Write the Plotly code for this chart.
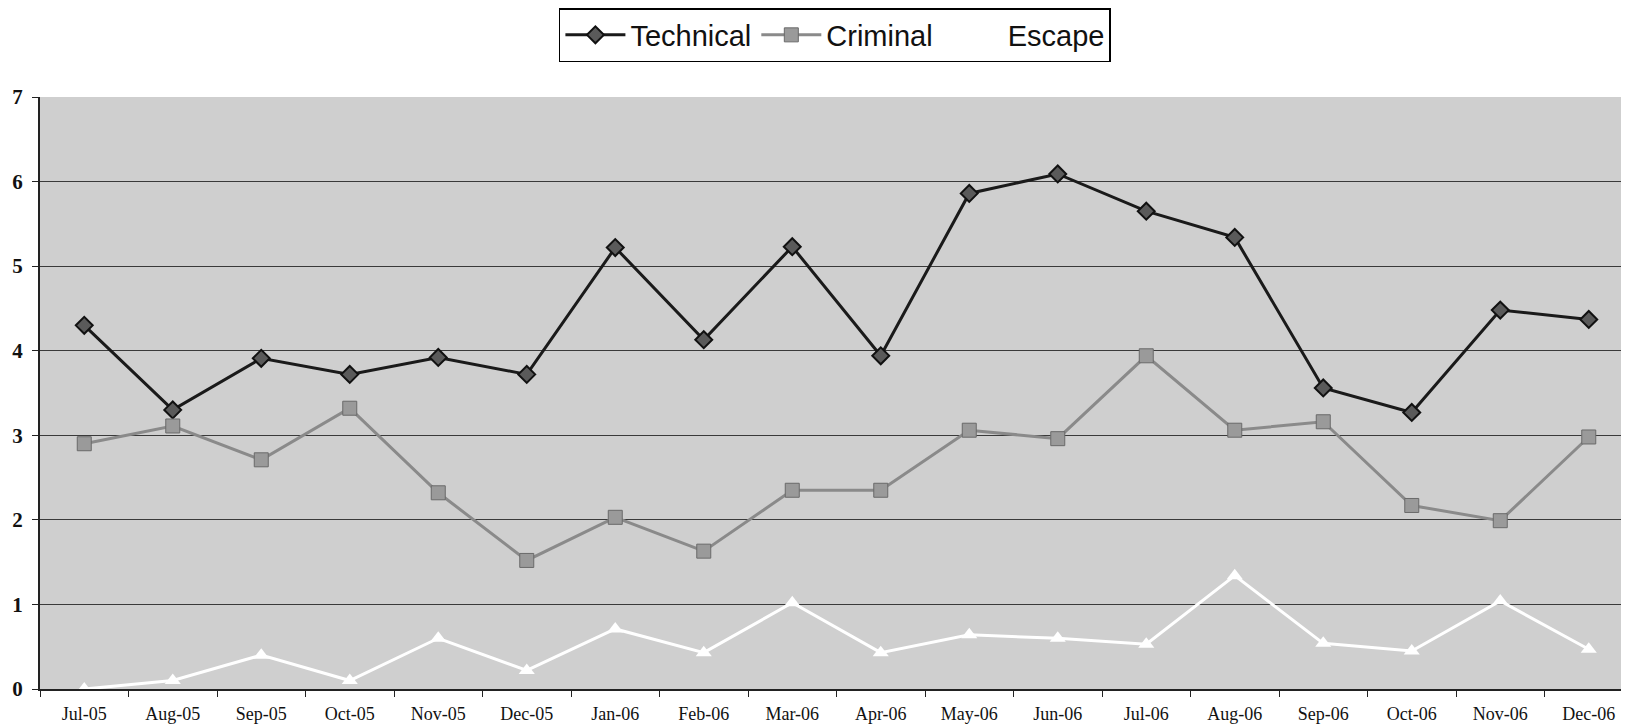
import plotly.graph_objects as go

months = ["Jul-05", "Aug-05", "Sep-05", "Oct-05", "Nov-05", "Dec-05",
          "Jan-06", "Feb-06", "Mar-06", "Apr-06", "May-06", "Jun-06",
          "Jul-06", "Aug-06", "Sep-06", "Oct-06", "Nov-06", "Dec-06"]
technical = [4.30, 3.30, 3.91, 3.72, 3.92, 3.72, 5.22, 4.13, 5.23, 3.94,
             5.86, 6.09, 5.65, 5.34, 3.56, 3.27, 4.48, 4.37]
criminal = [2.90, 3.11, 2.71, 3.32, 2.32, 1.52, 2.03, 1.63, 2.35, 2.35,
            3.06, 2.96, 3.94, 3.06, 3.16, 2.17, 1.99, 2.98]
escape = [0.0, 0.10, 0.40, 0.10, 0.60, 0.22, 0.71, 0.43, 1.02, 0.43,
          0.64, 0.60, 0.53, 1.34, 0.54, 0.45, 1.04, 0.47]

fig = go.Figure()
fig.add_trace(go.Scatter(
    x=months, y=technical, name="Technical", mode="lines+markers",
    line=dict(color="#1a1a1a", width=3),
    marker=dict(symbol="diamond", size=13, color="#5a5a5a",
                line=dict(color="#111111", width=2))))
fig.add_trace(go.Scatter(
    x=months, y=criminal, name="Criminal", mode="lines+markers",
    line=dict(color="#8a8a8a", width=3),
    marker=dict(symbol="square", size=14, color="#9a9a9a",
                line=dict(color="#6a6a6a", width=1))))
fig.add_trace(go.Scatter(
    x=months, y=escape, name="Escape", mode="lines+markers",
    line=dict(color="#ffffff", width=3),
    marker=dict(symbol="triangle-up", size=14, color="#ffffff",
                line=dict(color="#ffffff", width=0))))

fig.update_layout(
    width=1629, height=726,
    paper_bgcolor="white", plot_bgcolor="#cfcfcf",
    margin=dict(l=32, r=4, t=89, b=45, autoexpand=False),
    showlegend=True,
    legend=dict(orientation="h", x=0.499, xanchor="center", y=1.0, yanchor="top",
                yref="container",
                bordercolor="#000000", borderwidth=1.5, bgcolor="white",
                font=dict(family="Liberation Sans, Arial, sans-serif", size=29, color="#111"),
                itemwidth=60, tracegroupgap=0),
    xaxis=dict(type="category", range=[-0.5, 17.5], tickson="boundaries",
               ticks="outside", ticklen=6, tickcolor="#222",
               ticklabelstandoff=7,
               showgrid=False, showline=True, linecolor="#222", linewidth=2,
               tickfont=dict(family="Liberation Serif, Times New Roman, serif", size=18, color="#111")),
    yaxis=dict(range=[0, 7], dtick=1, ticks="outside", ticklen=6, tickcolor="#222",
               ticklabelstandoff=5,
               showgrid=True, gridcolor="#3a3a3a", gridwidth=1,
               showline=True, linecolor="#222", linewidth=2, zeroline=False,
               tickfont=dict(family="Liberation Serif, Times New Roman, serif", size=21, color="#111")),
)
fig.update_yaxes(tickprefix="<b>", ticksuffix="</b>")
fig.write_html("out.html")
